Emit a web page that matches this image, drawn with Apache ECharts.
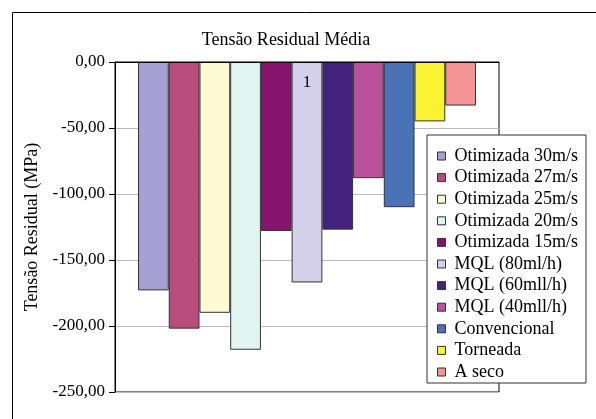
<!DOCTYPE html>
<html>
<head>
<meta charset="utf-8">
<script src="https://cdn.jsdelivr.net/npm/echarts@6/dist/echarts.min.js"></script>
<style>html,body{margin:0;padding:0;background:#fff}#c{width:596px;height:419px}</style>
</head>
<body>
<div id="c"></div>
<script>
const categories = ['1'];
const seriesNames = ['Otimizada 30m/s','Otimizada 27m/s','Otimizada 25m/s','Otimizada 20m/s','Otimizada 15m/s','MQL (80ml/h)','MQL (60mll/h)','MQL (40mll/h)','Convencional','Torneada','A seco'];
const seriesValues = [-173, -202, -190, -218, -128, -167, -127, -88, -110, -45, -33];
const seriesColors = ['#A7A0D2','#B84D7D','#FEFAD3','#E2F4F2','#86146F','#D4D0E9','#43227E','#B9519D','#4A72B6','#FBF232','#F49494'];
const yTicks = [0, -50, -100, -150, -200, -250];

const font = 'Liberation Serif';
const chart = echarts.init(document.getElementById('c'), null, {renderer: 'canvas'});
chart.setOption({
  animation: false,
  backgroundColor: '#fff',
  textStyle: {fontFamily: font},
  graphic: [
    {type: 'rect', left: 10, top: 10, shape: {width: 620, height: 440}, style: {fill: 'none', stroke: '#000', lineWidth: 1}, z: -10},
    {type: 'text', x: 286, y: 40, style: {text: 'Tensão Residual Média', font: '18px ' + font, fill: '#000', align: 'center', verticalAlign: 'middle'}}
  ],
  grid: {left: 115, right: 97, top: 62, bottom: 27, show: true, borderColor: '#000', borderWidth: 1, containLabel: false},
  legend: {
    orient: 'vertical', left: 427, top: 135,
    itemWidth: 8, itemHeight: 8, itemGap: 3.6,
    padding: [12, 8, 2, 10],
    backgroundColor: '#fff', borderColor: '#333', borderWidth: 1,
    icon: 'rect',
    itemStyle: {borderColor: '#333', borderWidth: 1},
    textStyle: {fontFamily: font, fontSize: 18, color: '#000', lineHeight: 18, padding: [0,0,0,4]},
    data: seriesNames
  },
  xAxis: {
    type: 'category', data: categories, z: 10, position: 'top',
    axisLine: {onZero: false, lineStyle: {color: '#000', width: 1}},
    axisTick: {show: false},
    axisLabel: {inside: true, fontFamily: font, fontSize: 17, color: '#000', margin: 12}
  },
  yAxis: {
    type: 'value', min: -250, max: 0, interval: 50,
    name: 'Tensão Residual (MPa)', nameLocation: 'middle', nameGap: 67,
    nameTextStyle: {fontFamily: font, fontSize: 18, color: '#000'},
    axisLine: {show: true, lineStyle: {color: '#000'}},
    axisTick: {show: true, length: 6, lineStyle: {color: '#000'}},
    splitLine: {lineStyle: {color: '#bbb'}},
    axisLabel: {fontFamily: font, fontSize: 17, color: '#000', margin: 10,
      formatter: v => yTicks.includes(v) ? v.toFixed(2).replace('.', ',') : ''}
  },
  series: seriesNames.map((n, i) => ({
    name: n, type: 'bar', data: [seriesValues[i]],
    barGap: '0%', barCategoryGap: '12%',
    itemStyle: {color: seriesColors[i], borderColor: '#333', borderWidth: 1}
  }))
});
</script>
</body>
</html>
